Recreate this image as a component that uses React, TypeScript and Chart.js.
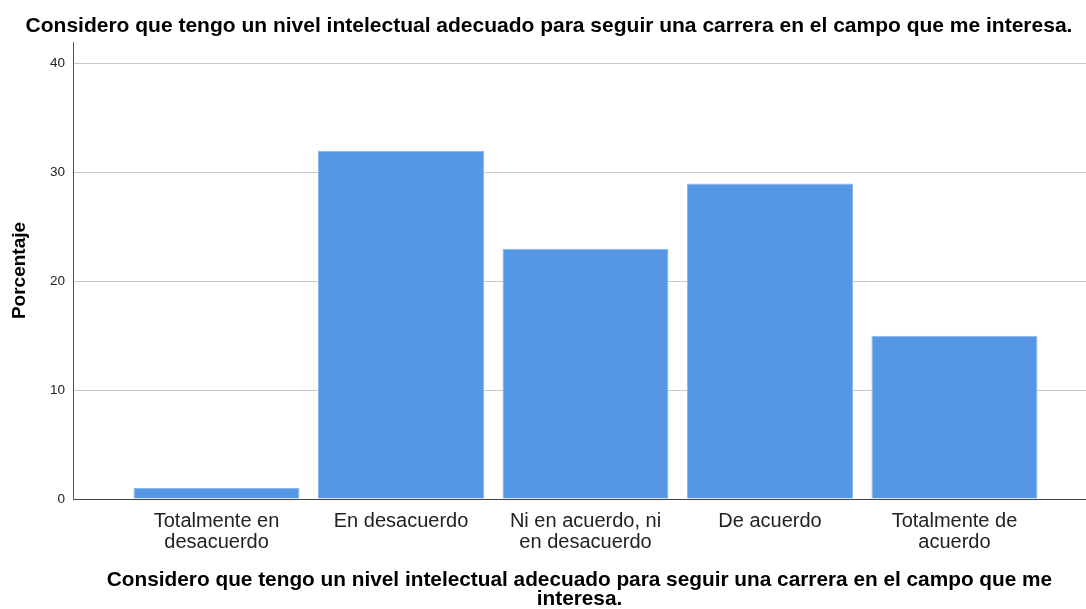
import React, { useEffect, useRef } from "react";
import { Chart, registerables } from "chart.js";

Chart.register(...registerables);

const chartTitle =
  "Considero que tengo un nivel intelectual adecuado para seguir una carrera en el campo que me interesa.";
const xTitleLines = [
  "Considero que tengo un nivel intelectual adecuado para seguir una carrera en el campo que me",
  "interesa.",
];
const yTitle = "Porcentaje";
const categories: string[][] = [
  ["Totalmente en", "desacuerdo"],
  ["En desacuerdo"],
  ["Ni en acuerdo, ni", "en desacuerdo"],
  ["De acuerdo"],
  ["Totalmente de", "acuerdo"],
];
const percentages = [1, 32, 23, 29, 15];
const yTicks = [0, 10, 20, 30, 40];
const yMax = 42;

const FONT = "'Liberation Sans', Arial, sans-serif";

export default function App() {
  const ref = useRef<HTMLCanvasElement | null>(null);

  useEffect(() => {
    if (!ref.current) return;
    const chart = new Chart(ref.current, {
      type: "bar",
      data: {
        datasets: [
          {
            data: percentages.map((v, i) => ({ x: i, y: v })),
            backgroundColor: "#5596E5",
            borderColor: "#8CB6EC",
            borderWidth: 1,
            barPercentage: 0.9,
            categoryPercentage: 1,
          },
        ],
      },
      options: {
        responsive: false,
        animation: false,
        layout: { padding: { left: 12, right: 0, top: 0, bottom: 0 } },
        plugins: {
          legend: { display: false },
          tooltip: { enabled: false },
          title: {
            display: true,
            text: chartTitle,
            color: "#000",
            font: { family: FONT, size: 21, weight: "bold" },
            padding: { top: 14, bottom: 2.8 },
          },
        },
        scales: {
          x: {
            type: "linear",
            offset: false,
            min: -0.778,
            max: 4.713,
            afterBuildTicks: (scale: any) => {
              scale.ticks = categories.map((_, i) => ({ value: i }));
            },
            afterFit: (scale: any) => {
              scale.height = 110;
            },
            grid: { display: false, drawTicks: false, offset: false },
            border: { display: true, color: "#444", width: 1 },
            ticks: {
              autoSkip: false,
              maxRotation: 0,
              minRotation: 0,
              padding: 11.5,
              color: "#222",
              font: { family: FONT, size: 20, lineHeight: "21px" },
              callback: (value: any) => categories[Math.round(Number(value))] ?? "",
            },
            title: {
              display: true,
              text: xTitleLines,
              color: "#000",
              font: { family: FONT, size: 20.8, weight: "bold", lineHeight: "19px" },
              padding: { top: 0, bottom: 0 },
            },
          },
          y: {
            type: "linear",
            min: 0,
            max: yMax,
            afterBuildTicks: (scale: any) => {
              scale.ticks = yTicks.map((v) => ({ value: v }));
            },
            afterFit: (scale: any) => {
              scale.width = 61;
            },
            grid: { color: "#C8C8C8", lineWidth: 1, drawTicks: false },
            border: { display: true, color: "#555", width: 1 },
            ticks: {
              padding: 8,
              color: "#222",
              font: { family: FONT, size: 13.5 },
            },
            title: {
              display: true,
              text: yTitle,
              color: "#000",
              font: { family: FONT, size: 19, weight: "bold", lineHeight: "16px" },
              padding: { top: 0, bottom: 0 },
            },
          },
        },
      },
    } as any);
    return () => chart.destroy();
  }, []);

  return (
    <div style={{ position: "absolute", left: 0, top: 0, width: 1086, height: 609, background: "#fff" }}>
      <canvas ref={ref} width={1086} height={609} />
    </div>
  );
}
